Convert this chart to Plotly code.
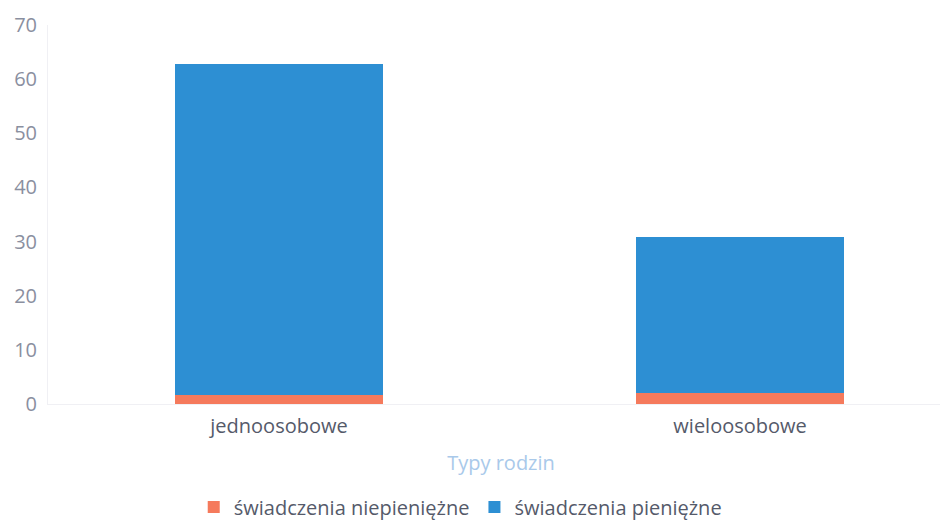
import plotly.graph_objects as go

categories = ["jednoosobowe", "wieloosobowe"]
niepieniezne = [1.7, 2.0]
pieniezne = [61.1, 28.9]
series_names = ["świadczenia niepieniężne", "świadczenia pieniężne"]
y_ticks = [0, 10, 20, 30, 40, 50, 60, 70]

fig = go.Figure()
fig.add_trace(go.Bar(x=categories, y=niepieniezne, name=series_names[0],
                     marker=dict(color="#f57a5c", line=dict(width=0))))
fig.add_trace(go.Bar(x=categories, y=pieniezne, name=series_names[1],
                     marker=dict(color="#2d8fd3", line=dict(width=0))))

fig.update_layout(
    barmode="stack",
    bargap=0.55,
    width=948, height=522,
    margin=dict(l=40, r=2, t=17, b=126),
    paper_bgcolor="white", plot_bgcolor="white",
    font=dict(family="Open Sans", size=19, color="#8a8fa0"),
    showlegend=True,
    legend=dict(orientation="h", x=0.455, xanchor="center", y=-0.22, yanchor="top",
                font=dict(size=20, color="#555a6a"), traceorder="normal",
                itemwidth=30),
    xaxis=dict(range=[-0.501, 1.464], showgrid=False, showline=True,
               linecolor="#f0f0f4", ticks="", ticklabelstandoff=4,
               tickfont=dict(size=20, color="#555a6a"),
               title=dict(text="Typy rodzin", font=dict(size=20, color="#a9c9ea"), standoff=17)),
    yaxis=dict(range=[0, 70], tickvals=y_ticks, showgrid=False, showline=True,
               linecolor="#f0f0f4", zeroline=False, ticks="", ticklabelstandoff=6,
               tickfont=dict(size=20, color="#8a8fa0")),
)

fig.write_html("out.html")
